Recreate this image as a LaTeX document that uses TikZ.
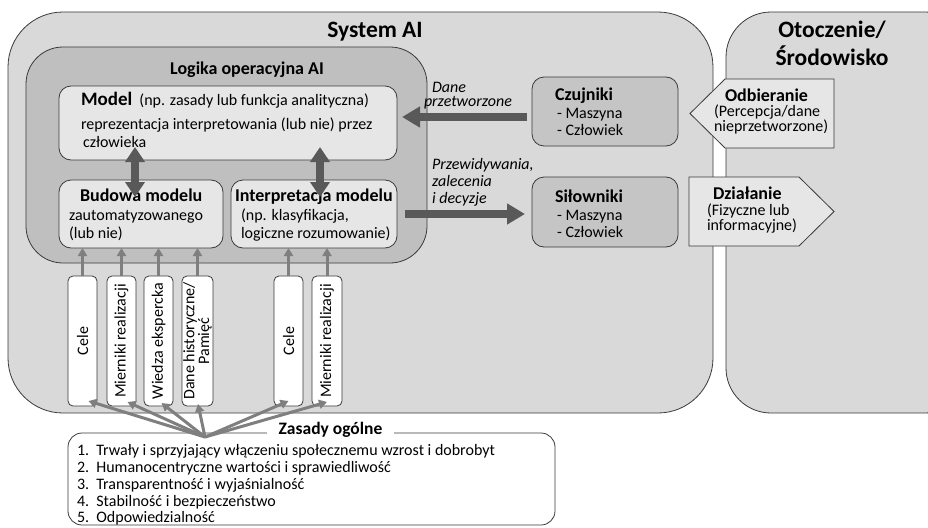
\documentclass[tikz,border=0pt]{standalone}
\usepackage{fontspec}
\setmainfont{Carlito}
\usetikzlibrary{positioning, arrows.meta, calc}

\definecolor{sysgray}{HTML}{D9D9D9}
\definecolor{logicgray}{HTML}{BFBFBF}
\definecolor{modelgray}{HTML}{E6E6E6}
\definecolor{arrowdark}{HTML}{595959}
\definecolor{arrowlight}{HTML}{7F7F7F}
\definecolor{edgegray}{HTML}{3A3A3A}

\begin{document}
\begin{tikzpicture}[x=1pt, y=1pt,
    every node/.style={inner sep=0pt, outer sep=0pt},
    panel/.style={draw=edgegray, line width=0.8pt, rounded corners=#1},
    txt/.style={font=\fontsize{16}{18}\selectfont},
    ttl/.style={font=\bfseries\fontsize{18}{20}\selectfont},
    vbar/.style={panel=5pt, fill=white, minimum width=29pt, minimum height=130pt},
    bigarrow/.style={draw=arrowdark, line width=8pt, -{Triangle[width=20pt,length=18pt]}},
    dblarrow/.style={draw=arrowdark, line width=8pt, {Triangle[width=19pt,length=15pt]}-{Triangle[width=19pt,length=15pt]}},
    thinarrow/.style={draw=arrowlight, line width=3pt, -{Triangle[width=9pt,length=8pt]}}]
  \useasboundingbox (0,0) rectangle (928,-527);

  % containers
  \node[panel=55pt, fill=sysgray, minimum width=705pt, minimum height=401pt] (system) at (360.5,-212.5) {};
  \node[panel=45pt, fill=sysgray, minimum width=244pt, minimum height=401pt] (env) at (848,-212.5) {};
  \node[panel=37pt, fill=logicgray, minimum width=401pt, minimum height=216pt] (logic) at (226.5,-155) {};
  \node[font=\bfseries\fontsize{23.5}{26}\selectfont] (systemT) at (375,-32) {System AI};
  \node[font=\bfseries\fontsize{23.5}{28}\selectfont, align=center] (envT) at (832,-43.5) {Otoczenie/\\Środowisko};
  \node[ttl] (logicT) at (247,-70) {Logika operacyjna AI};

  % model and its parts
  \node[panel=12pt, fill=modelgray, minimum width=338pt, minimum height=74pt] (model) at (228,-123) {};
  \node[panel=12pt, fill=modelgray, minimum width=164pt, minimum height=68pt] (budowa) at (141,-214) {};
  \node[panel=12pt, fill=modelgray, minimum width=166pt, minimum height=68pt] (interp) at (314,-214) {};
  \node[txt, align=left, anchor=north west] (modelT) at (81,-92.5)
    {{\bfseries\fontsize{19}{20}\selectfont Model}\ \ (np. zasady lub funkcja analityczna)\\[5.5pt]
     reprezentacja interpretowania (lub nie) przez\\ \hspace*{2pt}człowieka};
  \node[txt, align=left, anchor=north west] (budowaT) at (69,-188.5)
    {\hspace*{11pt}{\bfseries\fontsize{18}{20}\selectfont Budowa modelu}\\[1.5pt] zautomatyzowanego\\ (lub nie)};
  \node[txt, align=left, anchor=north west] (interpT) at (235,-188.5)
    {{\bfseries\fontsize{18}{20}\selectfont Interpretacja modelu}\\[1.5pt] \hspace*{6pt}(np. klasyfikacja,\\ \hspace*{6pt}logiczne rozumowanie)};

  % sensors and actuators
  \node[panel=12pt, fill=logicgray!90!white, minimum width=146pt, minimum height=69pt] (czujniki) at (605,-111.5) {};
  \node[panel=12pt, fill=logicgray!90!white, minimum width=146pt, minimum height=70pt] (silowniki) at (605,-212) {};
  \node[txt, align=left, anchor=north west, font=\fontsize{16}{17.5}\selectfont] (czujnikiT) at (555,-88)
    {{\bfseries\fontsize{18}{17.5}\selectfont Czujniki}\\ \hspace*{2pt}- Maszyna\\ \hspace*{2pt}- Człowiek};
  \node[txt, align=left, anchor=north west, font=\fontsize{16}{17.5}\selectfont] (silownikiT) at (555,-190)
    {{\bfseries\fontsize{18}{17.5}\selectfont Siłowniki}\\ \hspace*{2pt}- Maszyna\\ \hspace*{2pt}- Człowiek};

  % environment arrows
  \filldraw[draw=edgegray, line width=0.8pt, fill=modelgray]
    (690,-113.5) -- (725,-79) -- (834,-79) -- (834,-148) -- (725,-148) -- cycle;
  \filldraw[draw=edgegray, line width=0.8pt, fill=modelgray]
    (689,-177) -- (799,-177) -- (834,-211.5) -- (799,-246) -- (689,-246) -- cycle;
  \node[align=left, anchor=north west, font=\fontsize{16}{14.5}\selectfont] (odbieranieT) at (714,-89)
    {\hspace*{11pt}{\bfseries\fontsize{18}{15}\selectfont Odbieranie}\\[0.5pt](Percepcja/dane\\nieprzetworzone)};
  \node[align=left, anchor=north west, font=\fontsize{16}{15.5}\selectfont] (dzialanieT) at (707,-187)
    {\hspace*{6pt}{\bfseries\fontsize{18}{15.5}\selectfont Działanie}\\(Fizyczne lub\\informacyjne)};

  % main flows
  \draw[bigarrow, shorten <=5pt, shorten >=5pt] ([yshift=-5.5pt]czujniki.west) -- ([yshift=-5.5pt]czujniki.west -| model.east);
  \draw[bigarrow, shorten <=8pt, shorten >=7pt] (interp.east) -- (interp.east -| silowniki.west);
  \node[font=\itshape\fontsize{16}{14.5}\selectfont, align=left, anchor=north west] (daneT) at (424,-82)
    {\hspace*{8pt}Dane\\przetworzone};
  \node[font=\itshape\fontsize{16}{17}\selectfont, align=left, anchor=north west] (przewT) at (432,-158.5)
    {Przewidywania,\\zalecenia\\i decyzje};
  \draw[dblarrow] ($(budowa.north)+(-6,-17)$) -- ($(budowa.north |- model.south)+(-6,13)$);
  \draw[dblarrow] ($(interp.north)+(6,-17)$) -- ($(interp.north |- model.south)+(6,13)$);

  % inputs
  \node[vbar, label={[txt, rotate=90]center:Cele}] (cele1) at (82.5,-341) {};
  \node[vbar, label={[txt, rotate=90]center:Mierniki realizacji}] (miern1) at (121.5,-341) {};
  \node[vbar, label={[txt, rotate=90]center:Wiedza ekspercka}] (wiedza) at (158.5,-341) {};
  \node[vbar, minimum width=31pt, label={[rotate=90, align=center, font=\fontsize{16}{13}\selectfont]center:{Dane historyczne/\\Pamięć}}] (dane) at (197.5,-341) {};
  \node[vbar, label={[txt, rotate=90]center:Cele}] (cele2) at (288.5,-341) {};
  \node[vbar, minimum width=30pt, label={[txt, rotate=90]center:Mierniki realizacji}] (miern2) at (327,-341) {};
  \foreach \src in {cele1, miern1, wiedza, dane}
    \draw[thinarrow] (\src.north) -- (\src.north |- budowa.south);
  \foreach \src in {cele2, miern2}
    \draw[thinarrow] (\src.north) -- (\src.north |- interp.south);

  % general principles
  \node[panel=14pt, fill=white, minimum width=487pt, minimum height=92pt] (zasady) at (311.5,-479) {};
  \node[font=\bfseries\fontsize{17.5}{20}\selectfont, fill=white, inner xsep=12pt, inner ysep=3pt] (zasadyT) at (330.5,-430) {Zasady ogólne};
  \node[align=left, anchor=north west, font=\fontsize{16}{16.8}\selectfont] (zasadyL) at (77,-444.5)
    {1.\ \ Trwały i sprzyjający włączeniu społecznemu wzrost i dobrobyt\\
     2.\ \ Humanocentryczne wartości i sprawiedliwość\\
     3.\ \ Transparentność i wyjaśnialność\\
     4.\ \ Stabilność i bezpieczeństwo\\
     5.\ \ Odpowiedzialność};
  \coordinate (hub) at (205,-437);
  \draw[thinarrow] (hub) -- ($(cele1.south)+(6,5)$);
  \draw[thinarrow] (hub) -- ($(miern1.south)+(6,4)$);
  \draw[thinarrow] (hub) -- ($(wiedza.south)+(3,3)$);
  \draw[thinarrow] (hub) -- ($(dane.south)+(0.5,2)$);
  \draw[thinarrow] (hub) -- ($(cele2.south)+(0,5)$);
  \draw[thinarrow] (hub) -- ($(miern2.south)+(0,4)$);
\end{tikzpicture}
\end{document}
